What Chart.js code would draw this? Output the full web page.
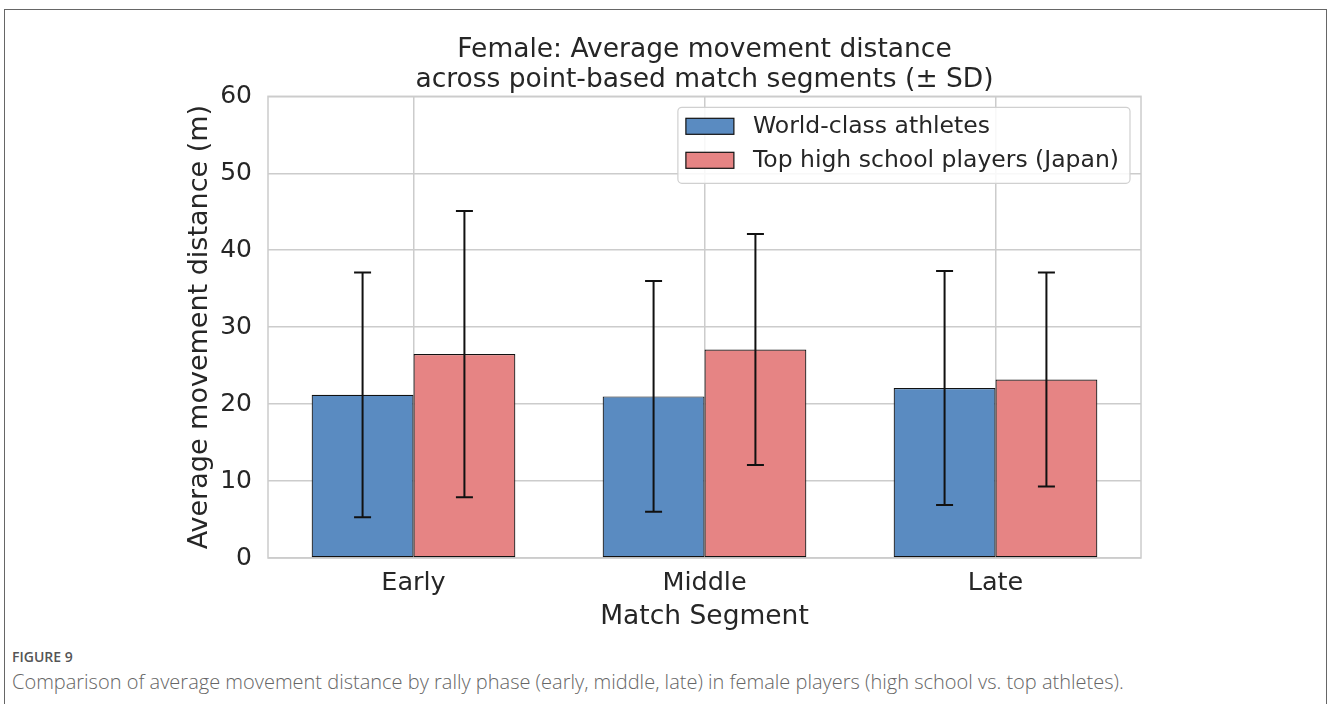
<!DOCTYPE html>
<html lang="en">
<head>
  <meta charset="UTF-8">
  <title>Female: Average movement distance</title>
  <script src="https://cdn.jsdelivr.net/npm/chart.js"></script>
  <style>
    html, body { margin: 0; padding: 0; background: #fff; }
    body { width: 1328px; height: 704px; position: relative; overflow: hidden; }
    #frame {
      position: absolute; left: 4px; top: 9px;
      width: 1321px; height: 720px;
      border: 1.5px solid #666;
    }
    #wrap { position: absolute; left: 0; top: 0; width: 1328px; height: 640px; }
    #figLabel {
      position: absolute; left: 12px; top: 647px;
      font-family: "Open Sans", sans-serif; font-size: 14px; color: #555;
      font-weight: 600;
    }
    #caption {
      position: absolute; left: 12px; top: 668px;
      font-family: "Open Sans", sans-serif; font-size: 20px; color: #666;
      font-weight: 300;
    }
  </style>
</head>
<body>
  <div id="frame"></div>
  <div id="wrap"><canvas id="chart" width="1328" height="640"></canvas></div>
  <div id="figLabel">FIGURE 9</div>
  <div id="caption">Comparison of average movement distance by rally phase (early, middle, late) in female players (high school vs. top athletes).</div>

  <script>
    const segments = ["Early", "Middle", "Late"];
    const seriesNames = ["World-class athletes", "Top high school players (Japan)"];
    const worldMean = [21.2, 21.0, 22.1];
    const worldSd = [15.9, 15.0, 15.2];
    const hsMean = [26.5, 27.1, 23.2];
    const hsSd = [18.6, 15.0, 13.9];
    const yTicks = [0, 10, 20, 30, 40, 50, 60];

    const FONT = "DejaVu Sans";
    const TEXT = "#262626";
    const GRID = "#cccccc";

    // error bars: mean +- sd, drawn from the bar elements and the y scale
    const errorBars = {
      id: "errorBars",
      afterDatasetsDraw(chart) {
        const ctx = chart.ctx;
        const y = chart.scales.y;
        ctx.save();
        ctx.strokeStyle = "#111";
        ctx.lineWidth = 2;
        chart.data.datasets.forEach((ds, i) => {
          chart.getDatasetMeta(i).data.forEach((bar, j) => {
            const top = y.getPixelForValue(ds.data[j] + ds.sd[j]);
            const bot = y.getPixelForValue(ds.data[j] - ds.sd[j]);
            ctx.beginPath();
            ctx.moveTo(bar.x, top); ctx.lineTo(bar.x, bot);
            ctx.moveTo(bar.x - 8.5, top); ctx.lineTo(bar.x + 8.5, top);
            ctx.moveTo(bar.x - 8.5, bot); ctx.lineTo(bar.x + 8.5, bot);
            ctx.stroke();
          });
        });
        ctx.restore();
      }
    };

    // light grey frame round the plot area
    const frame = {
      id: "frame",
      beforeDatasetsDraw(chart) {
        const a = chart.chartArea, ctx = chart.ctx;
        ctx.save();
        ctx.strokeStyle = GRID;
        ctx.lineWidth = 1.5;
        ctx.strokeRect(a.left, a.top, a.right - a.left, a.bottom - a.top);
        ctx.restore();
      }
    };

    // matplotlib style legend box in the upper right of the plot
    const boxLegend = {
      id: "boxLegend",
      afterDraw(chart) {
        const a = chart.chartArea, ctx = chart.ctx;
        ctx.save();
        ctx.font = "23.5px '" + FONT + "'";
        const textW = Math.max(...chart.data.datasets.map(d => ctx.measureText(d.label).width));
        const w = 75 + textW + 11;
        const h = 76;
        const x0 = a.right - 11 - w;
        const y0 = a.top + 11;
        ctx.fillStyle = "rgba(255,255,255,0.85)";
        ctx.strokeStyle = "#d0d0d0";
        ctx.lineWidth = 1.2;
        ctx.beginPath();
        ctx.roundRect(x0, y0, w, h, 4);
        ctx.fill(); ctx.stroke();
        chart.data.datasets.forEach((ds, i) => {
          const cy = y0 + 19 + i * 34;
          ctx.fillStyle = ds.backgroundColor;
          ctx.fillRect(x0 + 8, cy - 8, 48, 16);
          ctx.strokeStyle = "#111";
          ctx.lineWidth = 1.2;
          ctx.strokeRect(x0 + 8, cy - 8, 48, 16);
          ctx.fillStyle = TEXT;
          ctx.textBaseline = "middle";
          ctx.fillText(ds.label, x0 + 75, cy + 1);
        });
        ctx.restore();
      }
    };

    new Chart(document.getElementById("chart"), {
      type: "bar",
      data: {
        labels: segments,
        datasets: [
          { label: seriesNames[0], data: worldMean, sd: worldSd, backgroundColor: "#5a8bc1",
            borderColor: "#111", borderWidth: 1.2, borderSkipped: false },
          { label: seriesNames[1], data: hsMean, sd: hsSd, backgroundColor: "#e68484",
            borderColor: "#111", borderWidth: 1.2, borderSkipped: false }
        ]
      },
      options: {
        responsive: false,
        animation: false,
        layout: { padding: { left: 170, right: 187, top: 0, bottom: 2 } },
        datasets: { bar: { categoryPercentage: 0.7, barPercentage: 1.0 } },
        scales: {
          x: {
            offset: true,
            grid: { color: GRID, lineWidth: 1.5, offset: false, drawTicks: false },
            border: { display: false },
            ticks: { color: TEXT, font: { family: FONT, size: 25.5 }, padding: 10 },
            title: { display: true, text: "Match Segment", color: TEXT,
                     font: { family: FONT, size: 26.5 }, padding: { top: 0, bottom: 5 } },
            afterFit(scale) { scale.height = 80; }
          },
          y: {
            min: 0, max: 60,
            afterBuildTicks(scale) { scale.ticks = yTicks.map(v => ({ value: v })); },
            grid: { color: GRID, lineWidth: 1.5, drawTicks: false },
            border: { display: false },
            ticks: { color: TEXT, font: { family: FONT, size: 25 }, padding: 16 },
            title: { display: true, text: "Average movement distance (m)", color: TEXT,
                     font: { family: FONT, size: 27 }, padding: { top: 14, bottom: 0 } },
            afterFit(scale) { scale.width = 98; }
          }
        },
        plugins: {
          legend: { display: false },
          tooltip: { enabled: false },
          title: {
            display: true,
            fullSize: false,
            text: ["Female: Average movement distance", "across point-based match segments (\u00b1 SD)"],
            color: TEXT,
            font: { family: FONT, size: 26.5, weight: "normal", lineHeight: 1.1 },
            padding: { top: 36, bottom: 2 }
          }
        }
      },
      plugins: [frame, errorBars, boxLegend]
    });
  </script>
</body>
</html>
